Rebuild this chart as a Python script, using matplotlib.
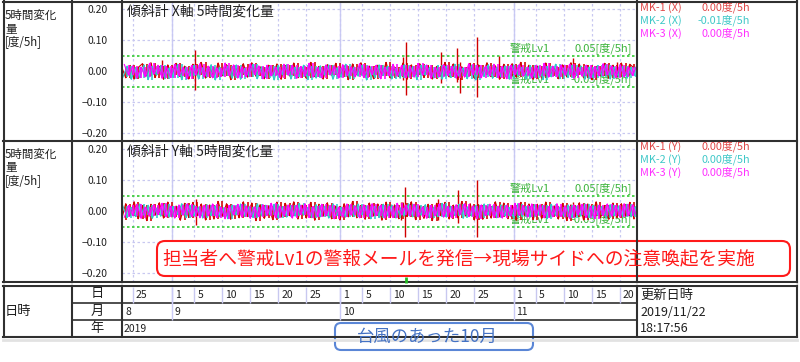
import numpy as np
import pandas as pd
import matplotlib
matplotlib.use('Agg')
import matplotlib.pyplot as plt
import matplotlib.dates as mdates
from matplotlib import transforms
from matplotlib.patches import FancyBboxPatch

plt.rcParams['font.family'] = ['Noto Sans CJK JP', 'DejaVu Sans']

# --- data (values in 1/1000 degree per 5h, one sample every 18h per gauge) ---
START = '2019-08-23 00:00'
STEP = '18h'
GAUGE_OFFSET_H = [0, 6, 12]   # MK-1, MK-2, MK-3 sampling offsets
XLIM = ('2019-08-23 02:00', '2019-11-23 01:00')

MK1_X = [14, -22, 18, -26, 12, 24, -16, 27, -21, 15,
         -27, 20, -13, 25, -18, 16, -26, 22, -14, 28,
         -23, 13, -19, 26, -15, 21, -28, 17, -12, 24,
         -20, 27, -17, 14, -25, 19, -13, 23, -27, 18,
         -16, 26, -22, 12, -24, 28, -18, 15, -26, 21,
         -14, 25, -19, 17, -28, 23, -12, 27, -20, 16,
         -25, 19, -15, 28, -23, 13, -18, 26, -27, 20,
         -13, 24, -21, 18, -26, 15, -17, 28, -19, 23,
         -28, 14, -16, 25, -24, 20, -12, 27, -18, 17,
         -26, 22, -15, 24, -20, 28, -14, 19, -27, 16,
         -23, 26, -17, 13, -25, 20, -19, 27, -13, 23,
         -22, 18, -28, 15, -16, 25, -24, 19, -18, 26,
         -14, 22, 10]
MK2_X = [-20, 16, -27, 12, -22, 20, -28, 15, -14, 18,
         -25, 10, -21, 22, -28, 14, -17, 19, -26, 11,
         -20, 21, -29, 13, -16, 17, -24, 20, -27, 9,
         -18, 22, -25, 14, -21, 16, -29, 18, -13, 21,
         -26, 12, -19, 19, -28, 15, -23, 17, -14, 20,
         -27, 11, -20, 22, -25, 13, -17, 18, -29, 14,
         -22, 20, -15, 16, -26, 10, -24, 21, -19, 15,
         -28, 19, -14, 12, -23, 18, -27, 16, -21, 22,
         -17, 11, -25, 19, -29, 14, -18, 21, -24, 13,
         -20, 17, -27, 20, -15, 12, -26, 18, -22, 16,
         -28, 15, -19, 22, -25, 11, -21, 19, -14, 17,
         -27, 13, -23, 18, -18, 21, -26, 14, -20, 16,
         -24, 12, -17]
MK3_X = [21, -14, 17, -23, 13, -19, 25, -11, 19, -24,
         15, -21, 22, -16, 12, -25, 18, -13, 24, -20,
         16, -22, 11, -18, 26, -15, 20, -23, 14, -19,
         24, -12, 17, -25, 19, -16, 13, -21, 22, -14,
         18, -24, 15, -17, 25, -20, 12, -22, 20, -13,
         16, -23, 21, -15, 14, -19, 24, -21, 17, -12,
         19, -25, 13, -16, 22, -17, 18, -22, 15, -20,
         25, -14, 20, -24, 12, -19, 21, -15, 16, -23,
         14, -20, 24, -13, 18, -22, 17, -16, 22, -21,
         15, -25, 19, -12, 21, -17, 13, -23, 18, -15,
         25, -20, 16, -19, 20, -14, 22, -24, 12, -17,
         19, -22, 15, -16, 24, -13, 17, -21, 21, -19,
         14, -15, 18]

MK1_Y = [-28, 24, -16, 30, -25, 18, -31, 22, -14, 27,
         -23, 29, -19, 16, -30, 25, -21, 28, -15, 23,
         -29, 20, -26, 31, -17, 24, -27, 15, -22, 30,
         -18, 26, -31, 21, -24, 17, -28, 29, -20, 25,
         -15, 30, -26, 19, -23, 28, -30, 22, -17, 27,
         -25, 16, -29, 24, -19, 31, -22, 18, -27, 26,
         -16, 23, -30, 29, -21, 20, -25, 27, -18, 30,
         -28, 17, -24, 22, -31, 25, -15, 28, -26, 19,
         -22, 31, -17, 24, -29, 21, -27, 16, -23, 30,
         -19, 26, -25, 18, -30, 28, -16, 23, -28, 22,
         -24, 29, -20, 17, -26, 25, -31, 20, -18, 27,
         -29, 23, -15, 30, -22, 18, -27, 26, -21, 24,
         -17, 28, -25]
MK2_Y = [16, -21, 12, -18, 23, -14, 19, -24, 10, -17,
         22, -20, 15, -12, 24, -22, 18, -16, 13, -23,
         21, -15, 17, -19, 11, -25, 20, -13, 23, -18,
         14, -21, 24, -16, 19, -12, 22, -24, 15, -20,
         18, -17, 25, -14, 12, -22, 21, -19, 16, -23,
         24, -15, 13, -20, 19, -18, 23, -12, 17, -25,
         15, -21, 22, -16, 20, -23, 11, -17, 24, -19,
         18, -14, 21, -22, 13, -18, 25, -20, 16, -15,
         22, -24, 14, -17, 19, -21, 23, -13, 17, -22,
         20, -16, 12, -23, 24, -18, 15, -20, 21, -14,
         18, -25, 22, -15, 13, -19, 20, -22, 16, -17,
         23, -21, 19, -12, 15, -24, 21, -16, 17, -18,
         22, -19, 14]
MK3_Y = [-20, 18, -15, 22, -24, 13, -17, 21, -12, 25,
         -19, 16, -23, 20, -14, 24, -18, 15, -22, 19,
         -16, 23, -21, 12, -25, 18, -13, 22, -20, 17,
         -24, 14, -18, 21, -15, 25, -22, 16, -17, 20,
         -23, 19, -12, 24, -21, 15, -19, 22, -16, 18,
         -25, 13, -20, 23, -14, 17, -22, 21, -18, 24,
         -15, 19, -23, 16, -21, 25, -13, 20, -17, 22,
         -19, 14, -24, 18, -16, 23, -20, 15, -22, 21,
         -12, 24, -18, 17, -25, 20, -15, 22, -21, 16,
         -23, 19, -17, 25, -14, 18, -20, 23, -16, 21,
         -22, 15, -19, 24, -18, 17, -24, 20, -13, 22,
         -21, 16, -25, 19, -15, 23, -17, 18, -20, 24,
         -16, 21, -18]

# short spikes of MK-1 (min / max inside the sample window)
SPIKE_X_DATES = ['2019-08-30 05:00', '2019-09-05 03:00', '2019-10-12 06:00', '2019-10-12 18:00',
                 '2019-10-19 00:00', '2019-10-21 22:00', '2019-10-22 12:00', '2019-10-25 12:00',
                 '2019-10-29 10:00', '2019-11-11 14:00', '2019-11-19 12:00']
SPIKE_X_TOP = [0.035, 0.068, 0.045, 0.094, 0.061, 0.074, 0.030, 0.110, 0.050, 0.042, 0.030]
SPIKE_X_BOT = [-0.020, -0.061, -0.030, -0.077, -0.040, -0.035, -0.071, -0.084, -0.025, -0.020, -0.020]

SPIKE_Y_DATES = ['2019-09-05 06:00', '2019-10-11 22:00', '2019-10-12 15:00', '2019-10-18 12:00',
                 '2019-10-22 00:00', '2019-10-25 12:00', '2019-11-11 14:00']
SPIKE_Y_TOP = [0.040, 0.030, 0.077, 0.040, 0.068, 0.100, 0.030]
SPIKE_Y_BOT = [-0.045, -0.030, -0.084, -0.030, -0.040, -0.084, -0.020]

ALERT_DATES = ['2019-10-12 20:00']

LEVEL = 0.05
YTICKS = [-0.2, -0.1, 0.0, 0.1, 0.2]
YTICK_LABELS = ['\u22120.20', '\u22120.10', '0.00', '0.10', '0.20']

DAY_TICKS = ['2019-08-25',
             '2019-09-01', '2019-09-05', '2019-09-10', '2019-09-15', '2019-09-20', '2019-09-25',
             '2019-10-01', '2019-10-05', '2019-10-10', '2019-10-15', '2019-10-20', '2019-10-25',
             '2019-11-01', '2019-11-05', '2019-11-10', '2019-11-15', '2019-11-20']
DAY_LABELS = ['25', '1', '5', '10', '15', '20', '25', '1', '5', '10', '15', '20', '25',
              '1', '5', '10', '15', '20']
MONTH_STARTS = ['2019-09-01', '2019-10-01', '2019-11-01']
MONTH_LABEL_DATES = ['2019-08-23 02:00', '2019-09-01', '2019-10-01', '2019-11-01']
MONTH_LABELS = ['8', '9', '10', '11']
YEAR_LABEL = '2019'

LEG_NAMES_X = ['MK-1 (X)', 'MK-2 (X)', 'MK-3 (X)']
LEG_VALS_X = ['0.00度/5h', '-0.01度/5h', '0.00度/5h']
LEG_NAMES_Y = ['MK-1 (Y)', 'MK-2 (Y)', 'MK-3 (Y)']
LEG_VALS_Y = ['0.00度/5h', '0.00度/5h', '0.00度/5h']

RED = '#D00000'
CYAN = '#30C8C8'
MAG = '#FF00FF'
SERIES_COLORS = [RED, CYAN, MAG]
LEG_COLORS = ['#E04848', '#40C8C8', '#FF30FF']
GREEN = '#33CC33'
GRID = '#C8C8F0'
LINE = '#303030'

W, H = 800, 362
fig = plt.figure(figsize=(W / 100, H / 100), dpi=100)


def px_axes(x0, y0, x1, y1):
    return fig.add_axes([x0 / W, 1 - y1 / H, (x1 - x0) / W, (y1 - y0) / H])


def dnum(lst):
    return mdates.date2num(pd.to_datetime(lst, format='ISO8601').to_pydatetime())


base_t = pd.date_range(START, periods=len(MK1_X), freq=STEP)
xlim = dnum(list(XLIM))
day_t = dnum(DAY_TICKS)
month_t = dnum(MONTH_STARTS)

ax1 = px_axes(122, 2, 637, 141)
ax2 = px_axes(122, 141, 637, 282)

panels = [
    (ax1, '傾斜計 X軸 5時間変化量', (MK1_X, MK2_X, MK3_X),
     (SPIKE_X_DATES, SPIKE_X_TOP, SPIKE_X_BOT), (-0.226, 0.223)),
    (ax2, '傾斜計 Y軸 5時間変化量', (MK1_Y, MK2_Y, MK3_Y),
     (SPIKE_Y_DATES, SPIKE_Y_TOP, SPIKE_Y_BOT), (-0.229, 0.226)),
]

for ax, title, series, spikes, ylim in panels:
    for k, (vals, col, off) in enumerate(zip(series, SERIES_COLORS, GAUGE_OFFSET_H)):
        tk = dnum(base_t + pd.Timedelta(hours=off))
        v = np.array(vals) / 1000
        # swing between consecutive samples, drawn as a vertical stroke
        ax.vlines(tk[1:], v[:-1], v[1:], color=col, lw=1.15, zorder=3 + k)
        ax.plot(tk, v, color=col, lw=0.8, zorder=3 + k)
        if k == 0:
            ax.vlines(dnum(spikes[0]), spikes[2], spikes[1], color=RED, lw=1.0, zorder=3)
    for lv in (LEVEL, -LEVEL):
        ax.axhline(lv, color=GREEN, ls=(0, (1.5, 1.5)), lw=1.2, zorder=2)
    lab = transforms.blended_transform_factory(ax.transAxes, ax.transData)
    ax.text(0.753, LEVEL + 0.004, '警戒Lv1', transform=lab, color='#3CB43C',
            fontsize=8, va='bottom', zorder=6)
    ax.text(0.99, LEVEL + 0.004, '%.2f[度/5h]' % LEVEL, transform=lab, color='#3CB43C',
            fontsize=8, va='bottom', ha='right', zorder=6)
    ax.text(0.753, -LEVEL + 0.004, '警戒Lv1', transform=lab, color='#3CB43C',
            fontsize=8, va='bottom', zorder=2)
    ax.text(0.99, -LEVEL + 0.004, '%.2f[度/5h]' % -LEVEL, transform=lab, color='#3CB43C',
            fontsize=8, va='bottom', ha='right', zorder=2)
    ax.text(0.01, 0.928, title, transform=ax.transAxes, fontsize=10, color='#202020',
            va='center', zorder=7)
    for m in month_t:
        ax.axvline(m, color='#CACAF6', lw=1, zorder=0.5)
    ax.set_xlim(xlim)
    ax.set_ylim(ylim)
    ax.set_yticks(YTICKS)
    ax.set_yticklabels(YTICK_LABELS)
    ax.set_xticks(day_t)
    ax.tick_params(axis='y', length=0, pad=10.5, labelsize=7.5, labelcolor='#202020')
    ax.tick_params(axis='x', length=0, labelbottom=False)
    ax.grid(True, color=GRID, ls=(0, (2, 2)), lw=0.9)
    ax.set_axisbelow(True)
    for s in ax.spines.values():
        s.set_visible(False)

# --- frame, table and annotations in pixel coordinates ---
ax_o = fig.add_axes([0, 0, 1, 1], zorder=10)
ax_o.set_xlim(0, W)
ax_o.set_ylim(H, 0)
ax_o.axis('off')
ax_o.patch.set_alpha(0)

ax_o.plot([3, 797], [339.5, 339.5], color='#E2E2E2', lw=2)
for y in (1.5, 141, 282, 285.5, 337):
    ax_o.plot([3, 797], [y, y], color=LINE, lw=1.5)
for y in (303, 320):
    ax_o.plot([72, 637], [y, y], color=LINE, lw=1.2)
for x in (3.5, 72, 122, 637, 797):
    ax_o.plot([x, x], [1, 337], color=LINE, lw=1.5)
ax_o.plot([3, 797], [283.8, 283.8], color='white', lw=1.2)

# date axis rows
dtr = transforms.blended_transform_factory(ax1.transData, ax_o.transData)
shift = transforms.ScaledTranslation(3 / 100, 0, fig.dpi_scale_trans)
ax_o.vlines(day_t, 286.5, 302.5, color=GRID, lw=1, transform=dtr)
ax_o.vlines(month_t, 286.5, 319.5, color='#CACAF6', lw=1, transform=dtr)
for d, s in zip(day_t, DAY_LABELS):
    ax_o.text(d, 294.5, s, transform=dtr + shift, fontsize=7.5, va='center', color='#202020')
for d, s in zip(dnum(MONTH_LABEL_DATES), MONTH_LABELS):
    ax_o.text(d, 312, s, transform=dtr + shift, fontsize=7.5, va='center', color='#202020')
ax_o.text(124, 329, YEAR_LABEL, fontsize=7.5, va='center', color='#202020')

ax_o.text(5, 311, '日時', fontsize=9.5, va='center', color='#202020')
for y, s in zip((294, 311.5, 328.5), ('日', '月', '年')):
    ax_o.text(97, y, s, fontsize=9.5, va='center', ha='center', color='#202020')
ax_o.text(640, 295, '更新日時', fontsize=9.5, va='center', color='#202020')
ax_o.text(640, 312, '2019/11/22', fontsize=9, va='center', color='#202020')
ax_o.text(640, 329, '18:17:56', fontsize=9, va='center', color='#202020')

# left labels and legends
for y0, names, vals in ((2, LEG_NAMES_X, LEG_VALS_X), (141, LEG_NAMES_Y, LEG_VALS_Y)):
    ax_o.text(5, y0 + 13.5, '5時間変化', fontsize=8.3, va='center', color='#202020')
    ax_o.text(5, y0 + 27, '量', fontsize=8.3, va='center', color='#202020')
    ax_o.text(5, y0 + 40, '[度/5h]', fontsize=8.3, va='center', color='#202020')
    for i, (n, v, c) in enumerate(zip(names, vals, LEG_COLORS)):
        ax_o.text(640, y0 + 5.5 + 13 * i, n, fontsize=7.8, va='center', color=c)
        ax_o.text(750, y0 + 5.5 + 13 * i, v, fontsize=7.8, va='center', ha='right', color=c)

ax_o.vlines(dnum(ALERT_DATES), 277, 283, color='#22BB22', lw=2, transform=dtr)

# callouts
ax_o.add_patch(FancyBboxPatch((157, 241), 633, 35, boxstyle='round,pad=0,rounding_size=8',
                              fc='white', ec='#FF1A1A', lw=1.5))
ax_o.text(162, 259, '担当者へ警戒Lv1の警報メールを発信→現場サイドへの注意喚起を実施',
          fontsize=13.5, color='#FF1A1A', va='center')
ax_o.add_patch(FancyBboxPatch((335, 323), 198, 27, boxstyle='round,pad=0,rounding_size=6',
                              fc='white', ec='#5A86D6', lw=1.5))
ax_o.text(427, 336.5, '台風のあった10月', fontsize=12.5, color='#4472C4',
          va='center', ha='center')

fig.savefig('out.png', dpi=100)
